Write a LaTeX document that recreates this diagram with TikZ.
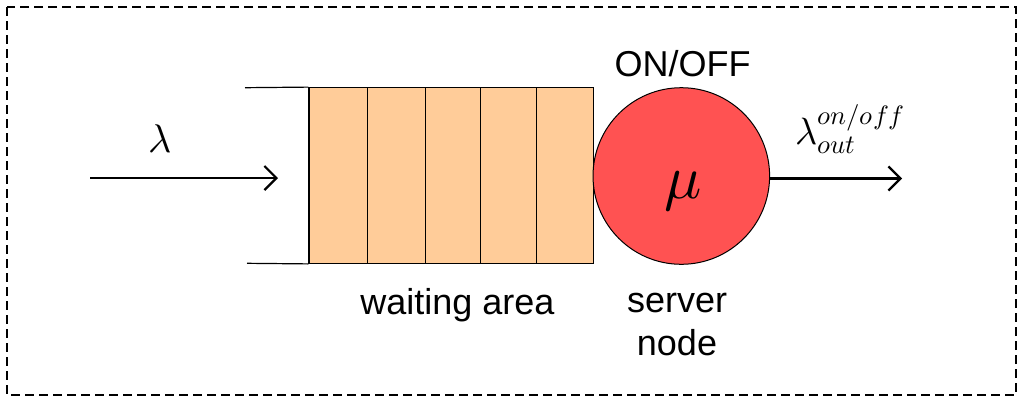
\documentclass[tikz,border=0pt]{standalone}
\usepackage{fontspec}
\usepackage{unicode-math}
\setmainfont{Liberation Sans}
\setmathfont{Latin Modern Math}
\usetikzlibrary{arrows.meta}
\definecolor{slotfill}{RGB}{255,204,153}
\definecolor{serverfill}{RGB}{255,82,82}
\tikzset{
  flow/.style={line width=2.2pt,-{Straight Barb[length=12pt,width=24pt,line width=2.2pt]}},
  slot/.style={draw=black,line width=1.2pt,fill=slotfill,minimum height=175.6pt,inner sep=0pt},
  wall/.style={line width=1.2pt},
  label/.style={font=\fontsize{36}{42}\selectfont,inner sep=0pt,anchor=base},
  frame/.style={line width=1.8pt,dash pattern=on 9pt off 5pt}
}
\begin{document}
\begin{tikzpicture}[x=1pt,y=-1pt]
  \useasboundingbox (0,0) rectangle (1019,397);
  % outer dashed frame
  \draw[frame] (7,7) rectangle (1016,395);

  % waiting slots
  \node[slot,minimum width=58.7pt] (s1) at (338.35,175.5) {};
  \node[slot,minimum width=58.0pt] (s2) at (396.7,175.5) {};
  \node[slot,minimum width=54.6pt] (s3) at (453.0,175.5) {};
  \node[slot,minimum width=56.4pt] (s4) at (508.5,175.5) {};
  \node[slot,minimum width=56.6pt] (s5) at (565.0,175.5) {};

  % open end of the queue
  \coordinate (qtop) at (245,87.7);
  \coordinate (qbot) at (247,263.3);
  \draw[wall] (qtop) -- (s1.north west);
  \draw[wall] (qbot) -- (s1.south west);

  % server
  \node[circle,draw=black,line width=1pt,fill=serverfill,minimum size=176.6pt,inner sep=0pt] (srv) at (681.3,176) {};
  \node[inner sep=0pt,anchor=base] (mu) at (683,198) {\fontsize{62}{68}\selectfont$\mu$};
  \node[label] (onoff) at (682.5,76.5) {ON/OFF};

  % arrival flow
  \coordinate (src) at (90,178);
  \coordinate (qin) at (278,178);
  \draw[flow] (src) -- (qin);
  \node[inner sep=0pt,anchor=base] (lam) at (160,152) {\fontsize{40}{44}\selectfont$\lambda$};

  % departure flow, horizontal from the server's rim
  \coordinate (sink) at (902,178.5);
  \draw[flow] (srv.east |- sink) -- (sink);
  \node[inner sep=0pt,anchor=base west] (lamout) at (795,144) {\fontsize{38}{42}\selectfont$\lambda_{out}^{on/off}$};

  % captions
  \node[label] (wait) at (457.5,314) {waiting area};
  \node[label] (srvA) at (677,312) {server};
  \node[label] (srvB) at (677,355) {node};
\end{tikzpicture}
\end{document}
